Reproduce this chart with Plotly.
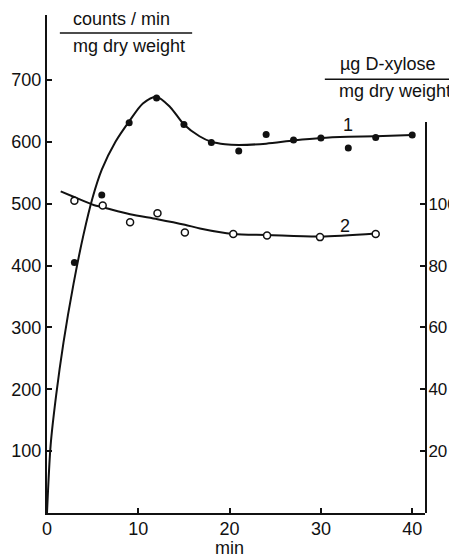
import plotly.graph_objects as go

# --- data ---
# series 1: counts/min per mg dry weight (left axis)
s1_min = [3, 6, 9, 12, 15, 18, 21, 24, 27, 30, 33, 36, 40]
s1_counts = [405, 514, 631, 671, 628, 599, 585, 612, 603, 606, 590, 607, 611]
# fitted curve 1
c1_min = [0, 0.4, 1.0, 1.8, 2.9, 4.0, 5.0, 6.0, 7.5, 9.0, 10.5, 12.0, 13.5, 15.0,
          16.7, 18.0, 19.5, 21.0, 24.0, 27.0, 30.0, 33.0, 36.0, 40.0]
c1_counts = [0, 110, 190, 275, 370, 450, 510, 555, 600, 633, 662, 673, 656, 628,
             609, 600, 596, 595, 597, 602, 606, 608, 609, 611]

# series 2: µg D-xylose per mg dry weight (right axis)
s2_min = [3, 6.1, 9.1, 12.1, 15.1, 20.4, 24.1, 29.9, 36]
s2_xylose = [101, 99.4, 94, 96.9, 90.7, 90.2, 89.7, 89.2, 90.2]
c2_min = [1.5, 3.1, 5.1, 6.2, 9.1, 12.1, 15.1, 16.75, 20.4, 24.1, 29.9, 36.0]
c2_xylose = [104, 102, 99.6, 98.8, 96.6, 95, 93.2, 92, 90.2, 89.9, 89.4, 90.4]

x_ticks = [0, 10, 20, 30, 40]
left_ticks = [100, 200, 300, 400, 500, 600, 700]
right_ticks = [20, 40, 60, 80, 100]

FONT = "Liberation Sans"
BLACK = "#111111"

fig = go.Figure()
fig.add_trace(go.Scatter(x=c1_min, y=c1_counts, mode="lines",
                         line=dict(color=BLACK, width=2, shape="spline", smoothing=0.8),
                         hoverinfo="skip", showlegend=False))
fig.add_trace(go.Scatter(x=s1_min, y=s1_counts, mode="markers",
                         marker=dict(color=BLACK, size=7), showlegend=False))
fig.add_trace(go.Scatter(x=c2_min, y=c2_xylose, mode="lines", yaxis="y2",
                         line=dict(color=BLACK, width=2, shape="spline", smoothing=0.8),
                         hoverinfo="skip", showlegend=False))
fig.add_trace(go.Scatter(x=s2_min, y=s2_xylose, mode="markers", yaxis="y2",
                         marker=dict(color="white", size=7, line=dict(color=BLACK, width=1.5)),
                         showlegend=False))

axis_common = dict(showgrid=False, zeroline=False, showline=True, linecolor=BLACK,
                   linewidth=2, ticks="inside", ticklen=5, tickwidth=1.5, tickcolor=BLACK,
                   automargin=False)

TXT = dict(family=FONT, size=18, color=BLACK)

# the page body adds an 8px offset, so the figure is sized to fit the window
fig.update_layout(
    width=449, height=550,
    margin=dict(l=39, r=32, t=7, b=45, autoexpand=False),
    plot_bgcolor="rgba(0,0,0,0)", paper_bgcolor="white",
    xaxis=dict(range=[0, 41.4], tickvals=x_ticks, anchor="y", ticklabelstandoff=-2,
               tickfont=TXT, **axis_common),
    yaxis=dict(range=[0, 805], tickvals=left_ticks, anchor="x", tickfont=TXT,
               **axis_common),
    yaxis2=dict(range=[0, 126.4], domain=[0, 0.785], side="right", anchor="x",
                tickvals=right_ticks, ticklabelstandoff=-2,
                tickfont=dict(family=FONT, size=17, color=BLACK), **axis_common),
    annotations=[
        dict(text="min", xref="paper", yref="paper", x=0.484, y=-0.071, showarrow=False,
             xanchor="center", yanchor="middle", font=TXT),
        dict(text="counts / min", xref="paper", yref="paper", x=0.198, y=0.992,
             showarrow=False, xanchor="center", yanchor="middle", font=TXT),
        dict(text="mg dry weight", xref="paper", yref="paper", x=0.217, y=0.938,
             showarrow=False, xanchor="center", yanchor="middle", font=TXT),
        dict(text="µg D-xylose", xref="paper", yref="paper", x=0.902, y=0.902,
             showarrow=False, xanchor="center", yanchor="middle", font=TXT),
        dict(text="mg dry weight", xref="paper", yref="paper", x=0.921, y=0.847,
             showarrow=False, xanchor="center", yanchor="middle", font=TXT),
        dict(text="1", x=33.0, y=627, showarrow=False, xanchor="center", font=TXT),
        dict(text="2", x=32.6, y=92.8, yref="y2", showarrow=False, xanchor="center", font=TXT),
    ],
    shapes=[
        dict(type="line", xref="paper", yref="paper", x0=0.034, x1=0.384, y0=0.964, y1=0.964,
             line=dict(color=BLACK, width=1.5)),
        dict(type="line", xref="paper", yref="paper", x0=0.735, x1=1.071, y0=0.871, y1=0.871,
             line=dict(color=BLACK, width=1.5)),
    ],
)

fig.write_html("out.html")
